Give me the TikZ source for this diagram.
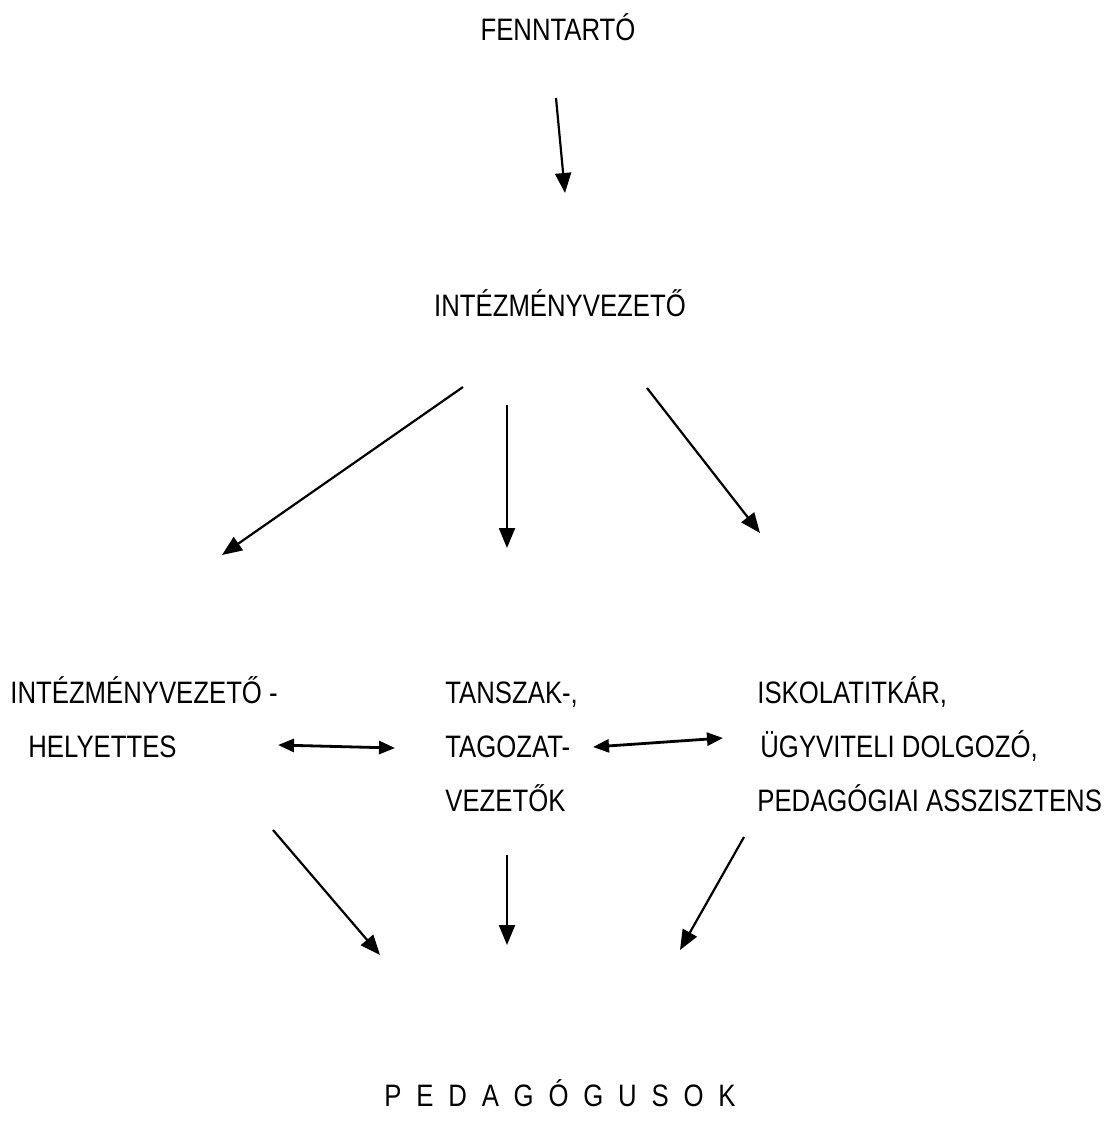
\documentclass[tikz,border=0pt]{standalone}
\usepackage{fontspec}
\setmainfont{Liberation Sans}[FakeStretch=0.83]
\usetikzlibrary{arrows.meta}

\begin{document}
\begin{tikzpicture}[x=0.5pt, y=-0.5pt,
  lbl/.style={inner sep=0pt, align=left, font=\fontsize{15.5}{27}\selectfont},
  link/.style={-{Triangle[length=10pt,width=8pt]}, line width=1.1pt},
  both/.style={{Triangle[length=8pt,width=6.5pt]}-{Triangle[length=8pt,width=6.5pt]}, line width=1.4pt}]
\useasboundingbox (0,0) rectangle (1109,1147);

% Top levels
\node[lbl, anchor=base] (fenntarto) at (558,40) {FENNTARTÓ};
\node[lbl, anchor=base] (vezeto) at (560,316) {INTÉZMÉNYVEZETŐ};

% Middle level (base = last line)
\node[lbl, anchor=base west] (helyettes) at (10,757) {INTÉZMÉNYVEZETŐ -\\\hspace*{9pt}HELYETTES};
\node[lbl, anchor=base west] (tanszak) at (445,811) {TANSZAK-,\\TAGOZAT-\\VEZETŐK};
\node[lbl, anchor=base west] (titkar) at (757,811) {ISKOLATITKÁR,\\\hspace*{1.5pt}ÜGYVITELI DOLGOZÓ,\\PEDAGÓGIAI ASSZISZTENS};

% Bottom level
\node[lbl, anchor=base] (pedagogusok) at (560,1106) {\spaceskip=7.4pt P E D A G Ó G U S O K};

% Arrow ends
\coordinate (f-s) at (556,98);   \coordinate (f-e) at (565,193);
\coordinate (v-ls) at (463,387); \coordinate (v-le) at (222,555);
\coordinate (v-ms) at (507,405); \coordinate (v-me) at (507,548);
\coordinate (v-rs) at (647,388); \coordinate (v-re) at (760,533);
\coordinate (h-a) at (278,745);  \coordinate (h-b) at (395,748);
\coordinate (t-a) at (593,747);  \coordinate (t-b) at (723,738);
\coordinate (p-ls) at (273,830); \coordinate (p-le) at (380,955);
\coordinate (p-ms) at (507,855); \coordinate (p-me) at (507,945);
\coordinate (p-rs) at (744,837); \coordinate (p-re) at (680,950);

% Connectors
\draw[link] (f-s) -- (f-e);
\draw[link] (v-ls) -- (v-le);
\draw[link] (v-ms) -- (v-me);
\draw[link] (v-rs) -- (v-re);
\draw[both] (h-a) -- (h-b);
\draw[both] (t-a) -- (t-b);
\draw[link] (p-ls) -- (p-le);
\draw[link] (p-ms) -- (p-me);
\draw[link] (p-rs) -- (p-re);
\end{tikzpicture}
\end{document}
